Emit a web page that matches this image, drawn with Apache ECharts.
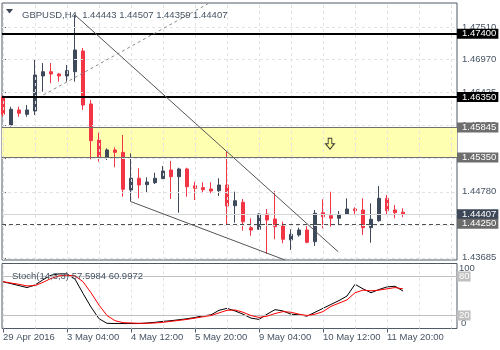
<!DOCTYPE html>
<html>
<head>
<meta charset="utf-8">
<script src="https://cdn.jsdelivr.net/npm/echarts@6/dist/echarts.min.js"></script>
<style>
  html, body { margin: 0; padding: 0; background: #ffffff; }
  #chart { width: 500px; height: 350px; }
</style>
</head>
<body>
<div id="chart"></div>
<script>
// GBPUSD H4 bars, oldest first
const opens  = [1.46351, 1.45887, 1.46136, 1.46064, 1.46119, 1.46699, 1.46770, 1.46732, 1.46699, 1.46770,
                1.47113, 1.46235, 1.45638, 1.45352, 1.45473, 1.45434, 1.44810, 1.45004, 1.44898, 1.44931,
                1.44997, 1.45141, 1.45030, 1.45158, 1.44881, 1.44848, 1.44826, 1.44798, 1.44893, 1.44549,
                1.44606, 1.44185, 1.44158, 1.44412, 1.44329, 1.44213, 1.43981, 1.44064, 1.44147, 1.43953,
                1.44433, 1.44384, 1.44341, 1.44407, 1.44495, 1.44478, 1.44185, 1.44301, 1.44672, 1.44478,
                1.44443];
const highs  = [1.46376, 1.46190, 1.46190, 1.46218, 1.46964, 1.46914, 1.46914, 1.46749, 1.46881, 1.47710,
                1.47163, 1.46301, 1.45759, 1.45501, 1.45517, 1.45721, 1.45418, 1.45169, 1.45020, 1.45096,
                1.45207, 1.45290, 1.45179, 1.45179, 1.44947, 1.44937, 1.44937, 1.45004, 1.45444, 1.44782,
                1.44661, 1.44341, 1.44424, 1.44495, 1.44793, 1.44284, 1.44158, 1.44185, 1.44213, 1.44478,
                1.44656, 1.44782, 1.44462, 1.44672, 1.44523, 1.44672, 1.44589, 1.44876, 1.44727, 1.44561,
                1.44507];
const lows   = [1.46024, 1.45862, 1.46024, 1.46024, 1.46053, 1.46439, 1.46578, 1.46605, 1.46605, 1.46605,
                1.46136, 1.45318, 1.45279, 1.45307, 1.45186, 1.44699, 1.44616, 1.44672, 1.44765, 1.44909,
                1.44992, 1.44661, 1.44433, 1.44699, 1.44644, 1.44755, 1.44755, 1.44710, 1.44218, 1.44268,
                1.44135, 1.44052, 1.44147, 1.43749, 1.43993, 1.43926, 1.43815, 1.44036, 1.43926, 1.43882,
                1.44175, 1.44201, 1.44241, 1.44395, 1.44395, 1.44064, 1.43936, 1.44284, 1.44407, 1.44341,
                1.44359];
const closes = [1.46064, 1.46147, 1.46081, 1.46136, 1.46716, 1.46770, 1.46732, 1.46699, 1.46787, 1.47130,
                1.46218, 1.45627, 1.45352, 1.45473, 1.45434, 1.44821, 1.45004, 1.44893, 1.44942, 1.45004,
                1.45125, 1.45030, 1.45158, 1.44864, 1.44838, 1.44815, 1.44793, 1.44893, 1.44545, 1.44632,
                1.44284, 1.44147, 1.44412, 1.44312, 1.44201, 1.43993, 1.44075, 1.44147, 1.43943, 1.44424,
                1.44367, 1.44341, 1.44407, 1.44495, 1.44467, 1.44185, 1.44324, 1.44672, 1.44467, 1.44433,
                1.44407];

// Stochastic(14,3,3): main (%K) and signal (%D)
const stochMain   = [72, 69, 66, 63, 67, 75, 82, 84, 84, 76,
                     54, 33, 15, 8, 7.6, 7.6, 7.6, 7.6, 8.5, 9.5,
                     11, 12, 13.5, 15, 17, 19.5, 21, 28, 31, 27,
                     22, 16, 14, 22, 29, 27, 22, 21, 19, 25,
                     31, 37, 43, 50, 68, 61, 55, 60, 64, 65,
                     57.5984];
const stochSignal = [72, 70, 68, 65.5, 66, 71, 77, 81, 82, 81,
                     72, 55, 36, 20, 12, 9, 8.5, 8, 8, 8.5,
                     9.5, 11, 12.5, 14, 16, 18, 20, 24, 28, 28.5,
                     25, 20, 17, 19, 23, 26, 25, 22, 20, 22,
                     26, 34, 39, 44, 55, 59, 58, 59, 61, 63,
                     60.9972];

// Axis ticks
const timeTickIndex  = [0, 8, 16, 24, 32, 40, 48];
const timeTickLabels = ['29 Apr 2016', '3 May 04:00', '4 May 12:00', '5 May 20:00',
                        '9 May 04:00', '10 May 12:00', '11 May 20:00'];
const priceTicks = [1.47510, 1.46970, 1.46425, 1.45875, 1.45330, 1.44780, 1.44230, 1.43685];
const gridColumns = [0, 4, 8, 12, 16, 20, 24, 28, 32, 36, 40, 44, 48, 52, 56];

// Chart objects: horizontal levels, sell zone, trend lines
const resistanceLevels = [1.47400, 1.46350];
const zoneTop = 1.45845, zoneBottom = 1.45350;
const pendingLevel = 1.44250;
const zoneArrow = [40.875, 1.45577];
const upperTrend = [[9, 1.47710], [41.9, 1.43786]];
const lowerTrend = [[16, 1.44616], [35.24, 1.43650]];
const supportRay = [[5.04, 1.46384], [25.66, 1.47900]];
const stochLevels = [80, 20];

const FONT = "'Liberation Sans', Arial, sans-serif";
const TXT = '#465463';
const FRAME = '#4f5b67';
const GRIDC = '#e2e2e2';
const BULL = '#3e4a59';
const BEAR = '#f23645';

const last = closes.length - 1;
const fmt = v => v.toFixed(5);
const xMin = -0.125, xMax = 56.75;
const yMin = 1.4364958, yMax = 1.4790878;

const candleData = opens.map((o, i) => [i, o, closes[i], lows[i], highs[i]]);
const kData = stochMain.map((v, i) => [i, v]);
const dData = stochSignal.map((v, i) => [i, v]);

const boxLabel = (bg) => ({
  show: true, position: 'end', distance: 0,
  formatter: p => fmt(p.value),
  color: '#ffffff', backgroundColor: bg, fontFamily: FONT, fontSize: 9.5,
  lineHeight: 10, padding: [0, 2, 0, 5]
});

const chart = echarts.init(document.getElementById('chart'), null, { renderer: 'canvas' });

chart.setOption({
  animation: false,
  backgroundColor: '#ffffff',
  title: [
    {
      text: 'GBPUSD,H4  ' + [opens[last], highs[last], lows[last], closes[last]].map(fmt).join(' '),
      left: 17, top: 5,
      textStyle: { fontFamily: FONT, fontSize: 9.5, fontWeight: 'normal', color: TXT }
    },
    {
      text: 'Stoch(14,3,3) ' + stochMain[last].toFixed(4) + ' ' + stochSignal[last].toFixed(4),
      left: 7, top: 266.5,
      textStyle: { fontFamily: FONT, fontSize: 9.5, fontWeight: 'normal', color: TXT }
    }
  ],
  graphic: [
    { type: 'polygon', shape: { points: [[6, 9], [13, 9], [9.5, 13.5]] }, style: { fill: '#3c4858' } }
  ],
  grid: [
    { left: 2, top: 3, width: 455, height: 257, show: true, borderColor: FRAME, borderWidth: 1, backgroundColor: 'transparent' },
    { left: 2, top: 263.5, width: 455, height: 65, show: true, borderColor: FRAME, borderWidth: 1, backgroundColor: 'transparent' }
  ],
  xAxis: [
    { type: 'value', gridIndex: 0, min: xMin, max: xMax, show: false },
    {
      type: 'value', gridIndex: 1, min: xMin, max: xMax,
      axisLine: { show: false }, splitLine: { show: false },
      axisTick: { show: true, customValues: timeTickIndex, length: 4, lineStyle: { color: FRAME } },
      axisLabel: {
        show: true, customValues: timeTickIndex, margin: 4, align: 'left',
        formatter: v => timeTickLabels[timeTickIndex.indexOf(Math.round(v))] || '',
        fontFamily: FONT, fontSize: 9.5, color: TXT
      }
    }
  ],
  yAxis: [
    {
      type: 'value', gridIndex: 0, position: 'right', min: yMin, max: yMax,
      axisLine: { show: false }, splitLine: { show: false },
      axisTick: { show: true, customValues: priceTicks, length: 3, lineStyle: { color: FRAME } },
      axisLabel: {
        show: true, customValues: priceTicks, margin: 5, formatter: v => fmt(v),
        fontFamily: FONT, fontSize: 9.5, color: TXT
      }
    },
    {
      type: 'value', gridIndex: 1, position: 'right', min: 0, max: 100,
      axisLine: { show: false }, splitLine: { show: false }, axisTick: { show: false },
      axisLabel: { show: true, customValues: [100], margin: 2, verticalAlign: 'top',
        fontFamily: FONT, fontSize: 9.5, color: TXT }
    },
    {
      type: 'value', gridIndex: 1, position: 'right', min: 0, max: 100,
      axisLine: { show: false }, splitLine: { show: false }, axisTick: { show: false },
      axisLabel: { show: true, customValues: [0], margin: 4, verticalAlign: 'bottom',
        fontFamily: FONT, fontSize: 9.5, color: TXT }
    }
  ],
  series: [
    // sell zone rectangle
    {
      type: 'line', xAxisIndex: 0, yAxisIndex: 0, data: [], z: 1, silent: true,
      markArea: {
        silent: true,
        itemStyle: { color: '#ffffb2' },
        data: [[{ yAxis: zoneTop }, { yAxis: zoneBottom }]]
      }
    },
    // dashed grid, main window
    {
      type: 'line', xAxisIndex: 0, yAxisIndex: 0, data: [], z: 2, silent: true,
      markLine: {
        silent: true, symbol: 'none', precision: 6, label: { show: false },
        lineStyle: { color: GRIDC, type: [3, 3], width: 1 },
        data: gridColumns.map(c => ({ xAxis: c })).concat(priceTicks.map(p => ({ yAxis: p })))
      }
    },
    // dashed grid, stochastic window
    {
      type: 'line', xAxisIndex: 1, yAxisIndex: 1, data: [], z: 2, silent: true,
      markLine: {
        silent: true, symbol: 'none', precision: 6, label: { show: false },
        lineStyle: { color: GRIDC, type: [3, 3], width: 1 },
        data: gridColumns.map(c => ({ xAxis: c }))
      }
    },
    // candles
    {
      type: 'candlestick', xAxisIndex: 0, yAxisIndex: 0, z: 4,
      data: candleData, barWidth: 4,
      itemStyle: { color: BULL, color0: BEAR, borderColor: BULL, borderColor0: BEAR, borderWidth: 1 }
    },
    // horizontal levels and trend lines
    {
      type: 'line', xAxisIndex: 0, yAxisIndex: 0, data: [], z: 5, silent: true,
      markLine: {
        silent: true, symbol: 'none', precision: 6,
        data: [
          { yAxis: closes[last], lineStyle: { color: '#d4d4d4', type: 'solid', width: 1 }, label: boxLabel('#3c4858') },
          { yAxis: pendingLevel, lineStyle: { color: '#505050', type: [4, 3], width: 1 }, label: boxLabel('#6b6b6b') },
          { yAxis: zoneTop, lineStyle: { color: '#707070', type: 'solid', width: 1 }, label: boxLabel('#6e6e6e') },
          { yAxis: zoneBottom, lineStyle: { color: '#707070', type: 'solid', width: 1 }, label: boxLabel('#6e6e6e') },
          ...resistanceLevels.map(v => ({ yAxis: v, lineStyle: { color: '#000000', type: 'solid', width: 2 }, label: boxLabel('#000000') })),
          [{ coord: upperTrend[0], lineStyle: { color: '#555555', type: 'solid', width: 1 }, label: { show: false } }, { coord: upperTrend[1] }],
          [{ coord: lowerTrend[0], lineStyle: { color: '#555555', type: 'solid', width: 1 }, label: { show: false } }, { coord: lowerTrend[1] }],
          [{ coord: supportRay[0], lineStyle: { color: '#8a8a8a', type: [3, 3], width: 1 }, label: { show: false } }, { coord: supportRay[1] }]
        ]
      },
      markPoint: {
        silent: true,
        symbol: 'path://M3,0L7,0L7,6L10,6L5,12L0,6L3,6Z',
        symbolSize: [9, 11],
        itemStyle: { color: '#ffff8c', borderColor: '#3a3a3a', borderWidth: 1 },
        label: { show: false },
        data: [{ coord: zoneArrow }]
      }
    },
    // stochastic main line
    {
      type: 'line', xAxisIndex: 1, yAxisIndex: 1, data: kData, z: 4,
      showSymbol: false, lineStyle: { color: '#000000', width: 1 },
      markLine: {
        silent: true, symbol: 'none',
        lineStyle: { color: '#c0c0c0', type: 'solid', width: 1 },
        label: {
          show: true, position: 'end', distance: 0, formatter: p => String(p.value),
          color: '#ffffff', backgroundColor: '#c0c0c0', fontFamily: FONT, fontSize: 9.5,
          lineHeight: 10, padding: [0, 1, 0, 2]
        },
        data: stochLevels.map(v => ({ yAxis: v }))
      }
    },
    // stochastic signal line
    {
      type: 'line', xAxisIndex: 1, yAxisIndex: 1, data: dData, z: 5,
      showSymbol: false, lineStyle: { color: '#ff0000', width: 1 }
    }
  ]
});
</script>
</body>
</html>
